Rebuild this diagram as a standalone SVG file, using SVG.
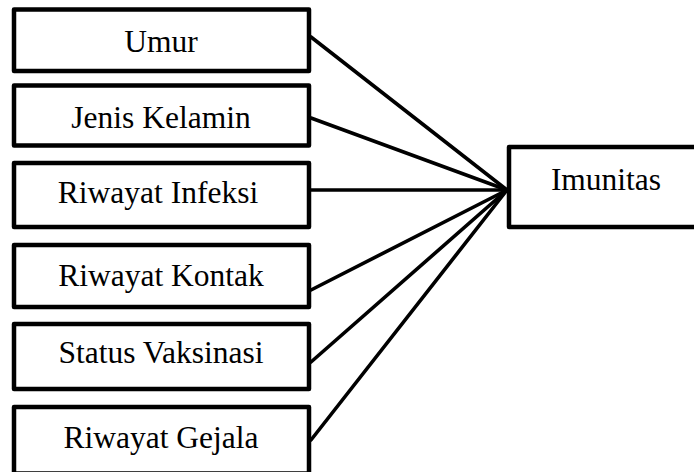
<svg xmlns="http://www.w3.org/2000/svg" width="694" height="472" viewBox="0 0 694 472">
<style>
.box{fill:#fff;stroke:#000;stroke-width:4.5;stroke-linejoin:round}
.lbl{font-family:'Liberation Serif','Times New Roman',Tinos,'DejaVu Serif',serif;font-size:31.5px;fill:#000;text-anchor:middle}
.con{stroke:#000;stroke-width:3.6;fill:none;stroke-linecap:round}
</style>
<rect width="694" height="472" fill="#fff"/>
<g id="connectors">
<line class="con" x1="311" y1="37" x2="507" y2="190"/>
<line class="con" x1="311" y1="118" x2="507" y2="190"/>
<line class="con" x1="311" y1="190" x2="507" y2="190"/>
<line class="con" x1="311" y1="290" x2="507" y2="190"/>
<line class="con" x1="311" y1="362" x2="507" y2="190"/>
<line class="con" x1="311" y1="440" x2="507" y2="190"/>
</g>
<g id="umur"><rect class="box" x="14" y="9.5" width="295" height="61.5"/><text class="lbl" x="161" y="52">Umur</text></g>
<g id="jenis-kelamin"><rect class="box" x="14" y="85.5" width="295" height="60"/><text class="lbl" x="161" y="128">Jenis Kelamin</text></g>
<g id="riwayat-infeksi"><rect class="box" x="14" y="163" width="295" height="64"/><text class="lbl" x="158" y="203">Riwayat Infeksi</text></g>
<g id="riwayat-kontak"><rect class="box" x="14" y="245" width="295" height="62"/><text class="lbl" x="161" y="286">Riwayat Kontak</text></g>
<g id="status-vaksinasi"><rect class="box" x="14" y="324" width="295" height="65"/><text class="lbl" x="161" y="363">Status Vaksinasi</text></g>
<g id="riwayat-gejala"><rect class="box" x="14" y="407" width="295" height="66.5"/><text class="lbl" x="161" y="448">Riwayat Gejala</text></g>
<g id="imunitas"><rect class="box" x="509" y="147" width="200" height="80"/><text class="lbl" x="606" y="190">Imunitas</text></g>
</svg>
